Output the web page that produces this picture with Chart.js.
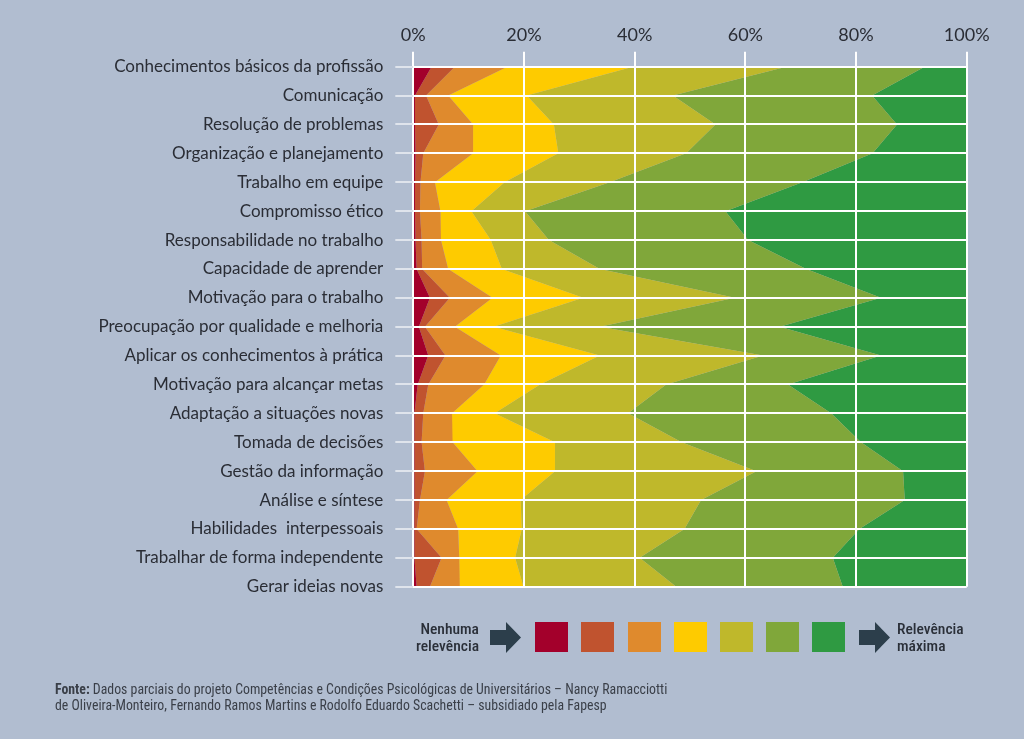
<!DOCTYPE html>
<html lang="pt">
<head>
<meta charset="utf-8">
<script src="https://cdn.jsdelivr.net/npm/chart.js@4.4.1/dist/chart.umd.min.js"></script>
<style>
  html, body { margin: 0; padding: 0; background: #b1bdd0; }
  #wrap { position: relative; width: 1024px; height: 739px; overflow: hidden; background: #b1bdd0; }
  #c { position: absolute; left: 0; top: 0; }
  .lg { position: absolute; font-family: "Liberation Sans Narrow", "Roboto Condensed", "Roboto", sans-serif; font-size: 15.5px; line-height: 17px; color: #2a2f38; font-weight: 500; }
  .sq { position: absolute; top: 622px; width: 33px; height: 30px; }
  .src { position: absolute; left: 55px; top: 681px; font-family: "Liberation Sans Narrow", "Roboto Condensed", "Roboto", sans-serif; font-size: 13.8px; line-height: 16px; color: #3a3f48; }
</style>
</head>
<body>
<div id="wrap">
  <canvas id="c" width="1024" height="739"></canvas>
  <div class="lg" style="left:370px; top:621px; width:109px; text-align:right;">Nenhuma<br>relevência</div>
  <svg style="position:absolute; left:490px; top:622px;" width="32" height="31"><polygon points="0,8 16,8 16,0 31,15.5 16,31 16,23 0,23" fill="#2c3e4b"/></svg>
  <div id="squares"></div>
  <svg style="position:absolute; left:859px; top:622px;" width="32" height="31"><polygon points="0,8 16,8 16,0 31,15.5 16,31 16,23 0,23" fill="#2c3e4b"/></svg>
  <div class="lg" style="left:897px; top:621px; text-align:left;">Relevência<br>máxima</div>
  <div class="src"><b>Fonte:</b> Dados parciais do projeto Competências e Condições Psicológicas de Universitários – Nancy Ramacciotti<br>de Oliveira-Monteiro, Fernando Ramos Martins e Rodolfo Eduardo Scachetti – subsidiado pela Fapesp</div>
</div>
<script>
// Categories (top to bottom)
const categories = [
  "Conhecimentos básicos da profissão",
  "Comunicação",
  "Resolução de problemas",
  "Organização e planejamento",
  "Trabalho em equipe",
  "Compromisso ético",
  "Responsabilidade no trabalho",
  "Capacidade de aprender",
  "Motivação para o trabalho",
  "Preocupação por qualidade e melhoria",
  "Aplicar os conhecimentos à prática",
  "Motivação para alcançar metas",
  "Adaptação a situações novas",
  "Tomada de decisões",
  "Gestão da informação",
  "Análise e síntese",
  "Habilidades  interpessoais",
  "Trabalhar de forma independente",
  "Gerar ideias novas"
];

// Share (%) of answers per relevance level, 1 = nenhuma ... 7 = máxima
const level1 = [3.3, 0.3, 0.3, 0.4, 0.3, 0.3, 0.4, 0.6, 3.0, 1.0, 2.7, 0.8, 0.2, 0.2, 0.2, 0.2, 0.2, 0.2, 0.6];
const level2 = [4.2, 2.0, 4.3, 1.4, 1.0, 0.9, 1.1, 1.0, 3.6, 1.1, 3.1, 1.9, 1.6, 1.3, 1.9, 1.0, 0.4, 4.9, 2.4];
const level3 = [9.5, 4.0, 6.2, 9.0, 2.6, 3.7, 3.5, 4.7, 7.7, 5.4, 10.0, 10.1, 5.2, 5.6, 9.5, 4.8, 7.5, 3.2, 5.4];
const level4 = [22.7, 14.2, 14.6, 15.4, 12.6, 5.6, 9.0, 9.7, 16.4, 7.0, 17.9, 10.1, 7.7, 18.5, 14.0, 13.4, 11.5, 10.1, 11.5];
const level5 = [27.7, 26.4, 29.2, 23.1, 19.0, 9.7, 10.5, 17.7, 27.4, 19.2, 29.5, 22.8, 24.1, 22.9, 36.4, 32.6, 29.4, 22.5, 27.6];
const level6 = [25.0, 36.0, 32.8, 33.7, 34.8, 36.2, 36.0, 37.3, 26.4, 32.5, 21.3, 22.0, 36.7, 32.4, 26.5, 36.8, 31.6, 34.9, 30.1];
const level7 = [7.6, 17.1, 12.6, 17.0, 29.7, 43.6, 39.5, 29.0, 15.5, 33.8, 15.5, 32.3, 24.5, 19.1, 11.5, 11.2, 19.4, 24.2, 22.4];

const tickLabels = ["0%", "20%", "40%", "60%", "80%", "100%"];

const levels = [level1, level2, level3, level4, level5, level6, level7];
const colors = ["#a3002b", "#c0532f", "#df8a2d", "#fecb00", "#bfb82b", "#80a73a", "#2f9a42"];

// legend squares
const sqWrap = document.getElementById('squares');
const sqX = [535, 581, 628, 674, 720, 766, 812];
colors.forEach((c, i) => {
  const d = document.createElement('div');
  d.className = 'sq';
  d.style.left = sqX[i] + 'px';
  d.style.background = c;
  sqWrap.appendChild(d);
});

const datasets = levels.map((vals, i) => ({
  label: 'Nível ' + (i + 1),
  data: vals,
  backgroundColor: colors[i],
  borderColor: colors[i],
  borderWidth: 0,
  pointRadius: 0,
  tension: 0,
  fill: i === 0 ? 'origin' : '-1'
}));

new Chart(document.getElementById('c'), {
  type: 'line',
  data: { labels: categories, datasets },
  options: {
    indexAxis: 'y',
    responsive: false,
    animation: false,
    events: [],
    layout: { padding: { left: 0, right: 57.3, top: 0, bottom: 152.3 } },
    plugins: { legend: { display: false }, tooltip: { enabled: false } },
    scales: {
      x: {
        position: 'top',
        stacked: true,
        min: 0,
        max: 100,
        afterFit: (s) => { s.height = 66.7; },
        grid: { color: '#ffffff', lineWidth: 2, tickLength: 15, drawTicks: true, z: 1 },
        border: { display: false },
        ticks: {
          stepSize: 20,
          padding: 6,
          color: '#2a2d35',
          font: { family: 'Lato, "Open Sans", sans-serif', size: 18 },
          callback: (v) => tickLabels[Math.round(v / 20)]
        }
      },
      y: {
        type: 'category',
        offset: false,
        afterFit: (s) => { s.width = 413.3; },
        grid: { color: '#ffffff', lineWidth: 2, tickLength: 18, tickColor: '#dfe4ec', z: 1 },
        border: { display: false },
        ticks: {
          padding: 12,
          color: '#2a2d35',
          autoSkip: false,
          font: { family: 'Lato, "Open Sans", sans-serif', size: 17 }
        }
      }
    }
  }
});
</script>
</body>
</html>
